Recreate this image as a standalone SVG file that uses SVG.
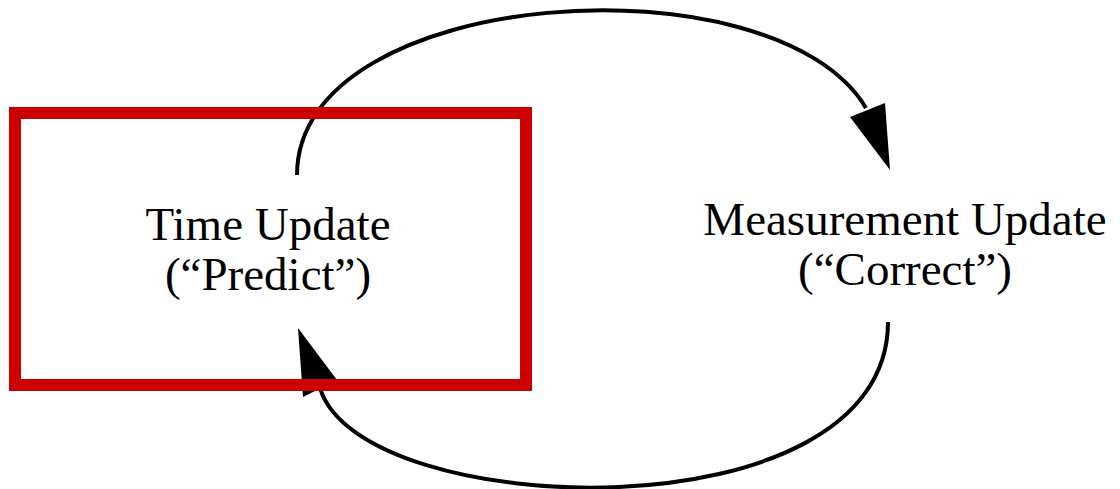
<svg xmlns="http://www.w3.org/2000/svg" width="1120" height="489" viewBox="0 0 1120 489">
<style>
.lbl{font-family:"Liberation Serif","Times New Roman",serif;font-size:47px;fill:#000;text-anchor:middle}
.arc{fill:none;stroke:#000;stroke-width:4}
.head{fill:#000}
</style>
<rect width="1120" height="489" fill="#fff"/>
<g id="connectors">
<path class="arc" d="M297 175 C297 -15 775 -45 866 108"/>
<polygon class="head" points="850,117 885,103 890,170"/>
<path class="arc" d="M888 322 C888 540 360 522 320 388"/>
<polygon class="head" points="303,397 337,380 298,328"/>
</g>
<g id="time-update">
<rect x="15" y="113" width="511" height="272" fill="none" stroke="#cc0000" stroke-width="12"/>
<text class="lbl" x="268" y="240">Time Update</text>
<text class="lbl" x="268" y="290">(“Predict”)</text>
</g>
<g id="measurement-update">
<text class="lbl" x="905" y="235">Measurement Update</text>
<text class="lbl" x="905" y="285">(“Correct”)</text>
</g>
</svg>
